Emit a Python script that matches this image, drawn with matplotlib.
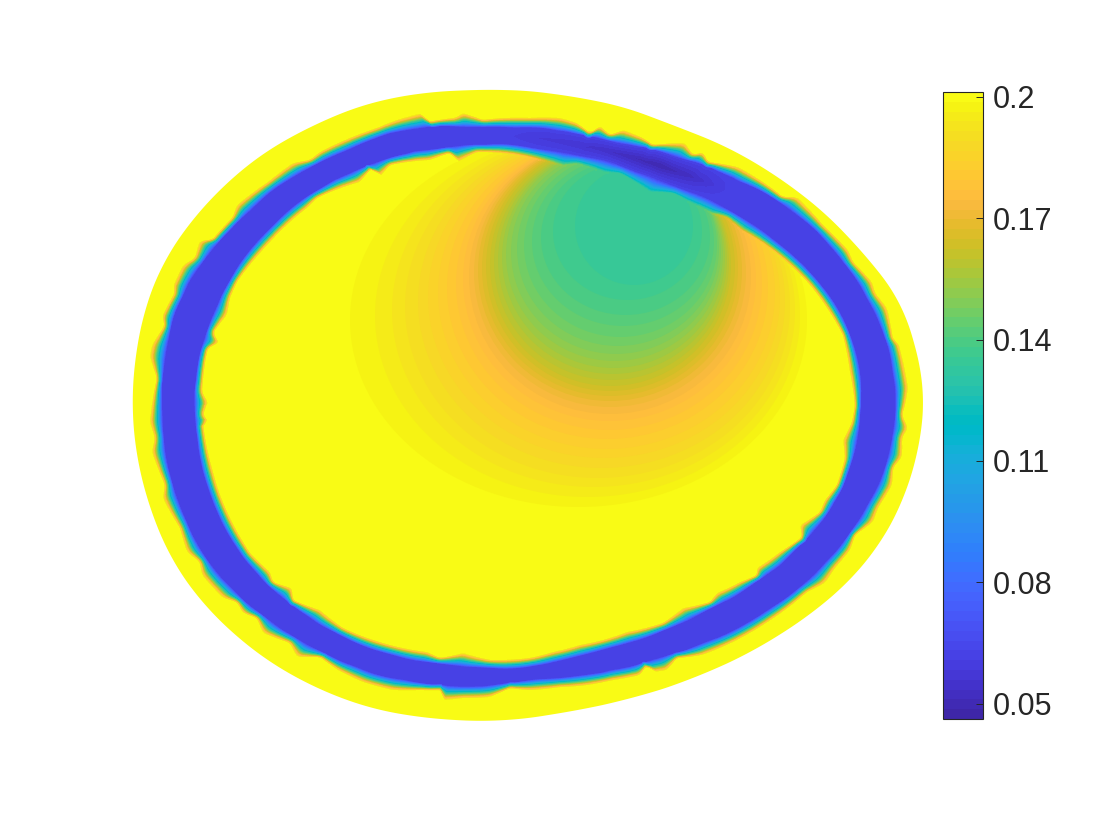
import numpy as np
import matplotlib
matplotlib.use('Agg')
import matplotlib.pyplot as plt
from matplotlib.colors import ListedColormap
from matplotlib.patches import Ellipse, Polygon

plt.rcParams['font.family'] = ['Liberation Sans', 'DejaVu Sans']

# Outer edge of the yellow region
outer_x = [133, 137, 147, 163, 187, 213, 237, 270, 313, 357, 397, 447, 483, 530, 573, 623, 673, 730, 780, 823, 863, 900, 913, 923,
           923, 918, 900, 880, 847, 803, 757, 697, 630, 570, 530, 477, 430, 383, 343, 313, 273, 233, 203, 173, 150, 138]
outer_y = [405, 352, 305, 265, 228, 198, 175, 150, 127, 108, 98, 92, 91, 92, 98, 108, 127, 150, 180, 213, 255, 302, 342, 385,
           405, 448, 505, 542, 582, 618, 647, 675, 697, 710, 717, 720, 717, 710, 698, 685, 663, 632, 602, 560, 505, 458]

# Jagged outer edge of the ring
ring_out_x = [152, 157, 150, 152, 165, 162, 175, 173, 183, 195, 200, 212, 233, 237, 268, 293, 310, 320, 350, 377, 397, 423, 428, 455, 463, 483,
              530, 560, 577, 590, 600, 610, 623, 643, 653, 685, 693, 703, 708, 738, 763, 783, 797, 823, 848, 853, 872, 875, 887, 893, 898, 908,
              905, 902, 908, 902, 902, 893, 892, 878, 873, 855, 850, 835, 825, 807, 763, 733, 702, 677, 667, 653, 647, 640, 613, 587, 560,
              530, 510, 490, 463, 442, 442, 420, 393, 363, 338, 320, 297, 290, 263, 257, 243, 237, 223, 202, 200, 187, 180, 168, 163, 165, 152, 155, 150]
ring_out_y = [405, 378, 357, 345, 325, 317, 292, 287, 265, 258, 240, 240, 217, 205, 182, 163, 160, 152, 138, 128, 120, 113, 122, 118, 113, 120,
              118, 118, 123, 133, 126, 135, 130, 138, 145, 143, 155, 152, 162, 167, 182, 197, 197, 225, 250, 262, 282, 293, 308, 340, 342, 388,
              405, 415, 428, 438, 457, 468, 485, 508, 522, 535, 550, 568, 583, 592, 625, 642, 655, 658, 670, 672, 665, 675, 680, 685, 687,
              690, 688, 697, 698, 700, 690, 690, 690, 682, 670, 657, 657, 643, 633, 618, 613, 602, 598, 575, 562, 552, 528, 508, 498, 485, 452, 438, 422]

# Jagged inner edge of the ring
ring_in_x = [208, 202, 205, 208, 220, 213, 227, 230, 237, 260, 270, 290, 307, 317, 360, 372, 380, 390, 430, 450, 458, 477, 503,
             530, 563, 577, 605, 620, 650, 673, 690, 713, 727, 742, 763, 787, 810, 827, 843, 850,
             855, 852, 843, 845, 837, 825, 820, 800, 802, 780, 757, 757, 740, 717, 710, 683, 663, 627, 603, 580, 553,
             530, 490, 463, 440, 427, 383, 343, 320, 293, 292, 273, 270, 250, 230, 220, 213, 205, 203, 210, 203]
ring_in_y = [402, 392, 362, 348, 343, 333, 315, 298, 282, 253, 242, 222, 208, 198, 182, 168, 177, 165, 160, 153, 162, 152, 153,
             157, 165, 163, 172, 173, 192, 193, 202, 213, 217, 230, 243, 262, 285, 308, 335, 372,
             405, 422, 440, 458, 485, 500, 512, 525, 537, 552, 568, 575, 582, 593, 602, 608, 623, 632, 640, 645, 652,
             658, 660, 653, 658, 652, 643, 628, 610, 600, 588, 582, 572, 553, 518, 495, 472, 438, 423, 422, 415]

# Dark streak along the top of the ring
dip_x = [500, 540, 580, 620, 660, 690, 730]
dip_value = [0.062, 0.058, 0.056, 0.052, 0.048, 0.052, 0.062]

# Nested contours of the patch under the ring
contour_value = [0.1976, 0.1952, 0.1928, 0.1904, 0.1880, 0.1856, 0.1832, 0.1808, 0.1784, 0.1760, 0.1736, 0.1712, 0.1688, 0.1664,
                 0.1640, 0.1616, 0.1592, 0.1568, 0.1544, 0.1520, 0.1496, 0.1472, 0.1448, 0.1424, 0.1400, 0.1376, 0.1352]
contour_left = [350, 375, 392, 405, 418, 428, 438, 447, 456, 463, 469, 474, 478, 482,
                486, 490, 494, 498, 502, 506, 511, 517, 524, 532, 541, 553, 575]
contour_right = [807, 800, 795, 790, 785, 780, 775, 768, 762, 756, 751, 746, 742, 738,
                 735, 731, 729, 727, 725, 723, 721, 719, 717, 714, 710, 702, 693]
contour_top = [133, 134, 134, 135, 135, 136, 136, 137, 138, 138, 139, 139, 140, 141,
               142, 143, 145, 146, 147, 148, 150, 152, 154, 157, 160, 163, 167]
contour_bottom = [507, 497, 487, 478, 468, 458, 449, 439, 430, 421, 414, 407, 401, 396,
                  391, 386, 380, 374, 368, 361, 354, 346, 337, 326, 315, 300, 285]

# Parula, 64 steps
parula_colors = [
    (0.2422, 0.1504, 0.6603), (0.2504, 0.1650, 0.7076), (0.2578, 0.1818, 0.7511), (0.2647, 0.1978, 0.7952),
    (0.2706, 0.2147, 0.8364), (0.2751, 0.2342, 0.8710), (0.2783, 0.2559, 0.8991), (0.2803, 0.2782, 0.9221),
    (0.2813, 0.3006, 0.9414), (0.2810, 0.3228, 0.9579), (0.2795, 0.3447, 0.9717), (0.2760, 0.3667, 0.9829),
    (0.2699, 0.3892, 0.9906), (0.2602, 0.4123, 0.9952), (0.2440, 0.4358, 0.9988), (0.2206, 0.4603, 0.9973),
    (0.1963, 0.4847, 0.9892), (0.1834, 0.5074, 0.9798), (0.1786, 0.5289, 0.9682), (0.1764, 0.5499, 0.9520),
    (0.1687, 0.5703, 0.9359), (0.1540, 0.5902, 0.9218), (0.1460, 0.6091, 0.9079), (0.1380, 0.6276, 0.8973),
    (0.1248, 0.6459, 0.8883), (0.1113, 0.6635, 0.8763), (0.0952, 0.6798, 0.8598), (0.0689, 0.6948, 0.8394),
    (0.0297, 0.7082, 0.8163), (0.0036, 0.7203, 0.7917), (0.0067, 0.7312, 0.7660), (0.0433, 0.7411, 0.7394),
    (0.0964, 0.7500, 0.7120), (0.1408, 0.7584, 0.6842), (0.1717, 0.7670, 0.6554), (0.1938, 0.7758, 0.6251),
    (0.2161, 0.7843, 0.5923), (0.2470, 0.7918, 0.5567), (0.2906, 0.7973, 0.5188), (0.3406, 0.8008, 0.4789),
    (0.3909, 0.8029, 0.4354), (0.4456, 0.8024, 0.3909), (0.5044, 0.7993, 0.3480), (0.5616, 0.7942, 0.3045),
    (0.6174, 0.7876, 0.2612), (0.6720, 0.7793, 0.2227), (0.7242, 0.7698, 0.1910), (0.7738, 0.7598, 0.1646),
    (0.8203, 0.7498, 0.1535), (0.8634, 0.7406, 0.1596), (0.9035, 0.7330, 0.1774), (0.9393, 0.7288, 0.2100),
    (0.9728, 0.7298, 0.2394), (0.9956, 0.7434, 0.2371), (0.9970, 0.7659, 0.2199), (0.9952, 0.7861, 0.1967),
    (0.9892, 0.8063, 0.1792), (0.9786, 0.8273, 0.1625), (0.9676, 0.8485, 0.1474), (0.9626, 0.8705, 0.1309),
    (0.9589, 0.8949, 0.1132), (0.9598, 0.9218, 0.0948), (0.9661, 0.9514, 0.0755), (0.9769, 0.9839, 0.0805)]

# Colorbar range and ticks
value_min = 0.0462
value_max = 0.2012
cbar_ticks = [0.05, 0.08, 0.11, 0.14, 0.17, 0.2]
cbar_labels = ['0.05', '0.08', '0.11', '0.14', '0.17', '0.2']

center_x = 528
center_y = 405


def to_polar(xs, ys, theta):
    # radius of a traced edge on a common angle grid
    xs = np.array(xs, dtype=float) - center_x
    ys = np.array(ys, dtype=float) - center_y
    return np.interp(theta, np.arctan2(ys, xs), np.hypot(xs, ys), period=2 * np.pi)


def smooth(r, n=61):
    # circular moving average, the solid ring edge has less jitter than the rim
    wrapped = np.concatenate([r[-n:], r, r[:n]])
    return np.convolve(wrapped, np.ones(n) / n, mode='same')[n:-n]


def patch_value(x, y):
    # value of the innermost contour holding the point
    value = np.full_like(x, 0.2, dtype=float)
    for v, l, r, t, b in zip(contour_value, contour_left, contour_right, contour_top, contour_bottom):
        inside = ((x - (l + r) / 2) / ((r - l) / 2)) ** 2 + ((y - (t + b) / 2) / ((b - t) / 2)) ** 2 <= 1
        value[inside] = v
    return value


parula = ListedColormap(parula_colors, name='parula')
levels = np.linspace(value_min, value_max, 65)

fig = plt.figure(figsize=(11.2, 8.4), dpi=100)
ax = fig.add_axes([0, 0, 1, 1])
ax.set_xlim(0, 1120)
ax.set_ylim(840, 0)
ax.axis('off')

theta = np.linspace(-np.pi, np.pi, 1441)

# Yellow base
r_rim = smooth(to_polar(outer_x, outer_y, theta), 41) + 0.5
rim = np.column_stack([center_x + r_rim * np.cos(theta), center_y + r_rim * np.sin(theta)])
ax.add_patch(Polygon(rim, closed=True, facecolor=parula(1.0), edgecolor='none', zorder=1))

# Ring edges on one angle grid, the rim of the band is softened a little
r_a = smooth(to_polar(ring_out_x, ring_out_y, theta), 5) + 1
r_d = smooth(to_polar(ring_in_x, ring_in_y, theta), 5) - 1
r_b = np.minimum(smooth(r_a) - 11, r_a - 7)
r_c = np.maximum(smooth(r_d) + 10, r_d + 7)
r_m = (r_b + r_c) / 2

radii = np.column_stack([r_a + 0.5, r_a, r_b, r_m, r_c, r_d, r_d - 0.5])
X = center_x + radii * np.cos(theta)[:, None]
Y = center_y + radii * np.sin(theta)[:, None]

# Contour patch, clipped to the inside of the ring
clip_poly = Polygon(np.column_stack([X[:, 3], Y[:, 3]]), closed=True, transform=ax.transData)
for v, l, r, t, b in zip(contour_value, contour_left, contour_right, contour_top, contour_bottom):
    e = Ellipse(((l + r) / 2, (t + b) / 2), r - l, b - t, facecolor=parula((v - value_min) / (value_max - value_min)),
                edgecolor='none', zorder=2)
    ax.add_patch(e)
    e.set_clip_path(clip_poly)

# Ring values across its width
Z = np.zeros_like(X)
Z[:, 0] = 0.2
Z[:, 1] = 0.2
Z[:, 2] = 0.062
Z[:, 3] = np.where(Y[:, 3] < 300, np.interp(X[:, 3], dip_x, dip_value), 0.062)
Z[:, 4] = 0.062
Z[:, 5] = patch_value(X[:, 5], Y[:, 5])
Z[:, 6] = Z[:, 5]

cs = ax.contourf(X, Y, Z, levels=levels, cmap=parula, vmin=value_min, vmax=value_max, zorder=3)

# Colorbar
cax = fig.add_axes([943 / 1120, 1 - 719 / 840, 40 / 1120, 627 / 840])
cbar = fig.colorbar(cs, cax=cax)
cbar.set_ticks(cbar_ticks)
cbar.set_ticklabels(cbar_labels)
cbar.ax.tick_params(direction='in', length=5, width=0.7, color='#262626', labelcolor='#262626', labelsize=22, pad=7)
cbar.ax.minorticks_off()
cbar.outline.set_edgecolor('#262626')
cbar.outline.set_linewidth(0.8)

plt.savefig('out.png', dpi=100)
